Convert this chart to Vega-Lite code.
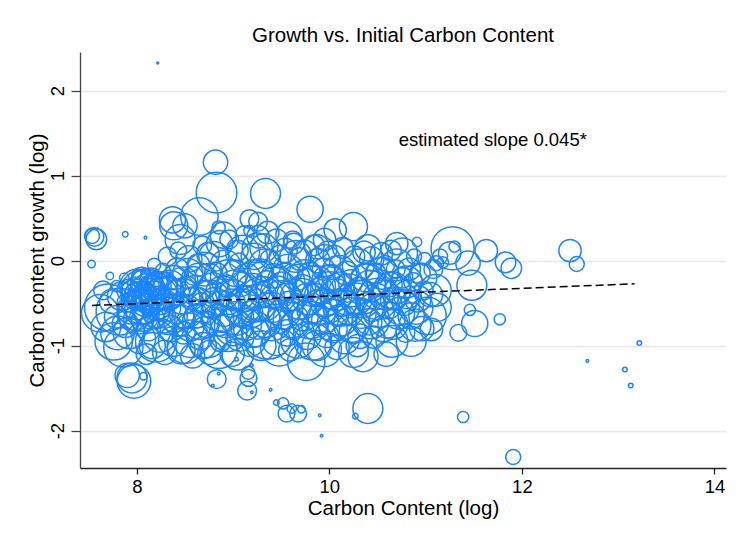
{
  "$schema": "https://vega.github.io/schema/vega-lite/v6.json",
  "width": 646,
  "height": 416,
  "autosize": "none",
  "padding": {"left": 80, "top": 52, "right": 14, "bottom": 72},
  "background": "white",
  "config": {
    "font": "Liberation Sans",
    "view": {"stroke": null},
    "axis": {"labelFont": "Liberation Sans", "titleFont": "Liberation Sans", "labelColor": "black", "titleColor": "black", "titleFontWeight": "normal"}
  },
  "title": {"text": "Growth vs. Initial Carbon Content", "fontSize": 20.5, "fontWeight": "normal", "color": "black", "offset": 6, "anchor": "middle"},
  "datasets": {
    "points": [
      {"x":8.218,"y":2.326,"w":1},
      {"x":7.56,"y":0.28,"w":100},{"x":7.58,"y":0.25,"w":121},{"x":7.535,"y":0.29,"w":64},{"x":7.53,"y":-0.04,"w":16},{"x":7.88,"y":0.31,"w":9},{"x":8.09,"y":0.27,"w":2},
      {"x":7.62,"y":-0.62,"w":400},{"x":7.65,"y":-0.35,"w":100},{"x":7.68,"y":-0.78,"w":250},{"x":7.7,"y":-0.55,"w":625},
      {"x":7.72,"y":-0.18,"w":16},{"x":7.74,"y":-0.48,"w":169},{"x":7.76,"y":-0.95,"w":400},{"x":7.78,"y":-0.66,"w":144},{"x":7.79,"y":-0.3,"w":36},
      {"x":7.82,"y":-0.6,"w":625},{"x":7.84,"y":-0.42,"w":225},{"x":7.86,"y":-1.02,"w":441},{"x":7.87,"y":-0.2,"w":25},{"x":7.88,"y":-0.75,"w":196},{"x":7.89,"y":-0.5,"w":100},
      {"x":7.91,"y":-0.35,"w":144},{"x":7.92,"y":-0.85,"w":289},{"x":7.94,"y":-0.58,"w":225},{"x":7.95,"y":-1.38,"w":256},{"x":7.97,"y":-1.42,"w":324},{"x":7.98,"y":-0.28,"w":64},{"x":7.99,"y":-0.68,"w":169},{"x":7.9,"y":-1.35,"w":169},{"x":8.07,"y":-1.36,"w":16},
      {"x":8.01,"y":-0.4,"w":196},{"x":8.03,"y":-0.22,"w":81},{"x":8.04,"y":-0.92,"w":256},{"x":8.05,"y":-0.55,"w":324},{"x":8.06,"y":-0.7,"w":144},{"x":8.08,"y":-0.35,"w":100},{"x":8.09,"y":-0.15,"w":25},{"x":8.1,"y":-1.1,"w":121},{"x":8.02,"y":-0.62,"w":484},
      {"x":8.11,"y":-0.45,"w":225},{"x":8.12,"y":-0.8,"w":169},{"x":8.14,"y":-0.3,"w":144},{"x":8.15,"y":-0.58,"w":400},{"x":8.16,"y":-1.0,"w":196},{"x":8.18,"y":-0.05,"w":49},{"x":8.19,"y":-0.68,"w":100},{"x":8.13,"y":-0.4,"w":289},
      {"x":8.21,"y":-0.25,"w":121},{"x":8.22,"y":-0.62,"w":256},{"x":8.24,"y":-0.88,"w":324},{"x":8.25,"y":-0.48,"w":196},{"x":8.27,"y":-0.12,"w":64},{"x":8.28,"y":-0.72,"w":144},{"x":8.29,"y":-1.08,"w":169},{"x":8.23,"y":-0.35,"w":400},
      {"x":7.98,"y":-0.38,"w":225},{"x":8.0,"y":-0.3,"w":324},{"x":8.02,"y":-0.45,"w":144},{"x":8.04,"y":-0.33,"w":400},{"x":8.06,"y":-0.42,"w":256},{"x":8.08,"y":-0.5,"w":196},{"x":8.1,"y":-0.28,"w":289},{"x":8.12,"y":-0.36,"w":361},{"x":8.14,"y":-0.48,"w":225},{"x":8.16,"y":-0.32,"w":169},{"x":8.18,"y":-0.42,"w":256},{"x":8.2,"y":-0.5,"w":324},{"x":8.22,"y":-0.3,"w":196},{"x":8.05,"y":-0.2,"w":121},{"x":8.15,"y":-0.22,"w":144},{"x":8.25,"y":-0.38,"w":289},{"x":8.0,"y":-0.52,"w":256},{"x":8.1,"y":-0.6,"w":169},{"x":7.96,"y":-0.46,"w":100},{"x":8.28,"y":-0.3,"w":225},
      {"x":8.31,"y":-0.55,"w":225},{"x":8.32,"y":0.05,"w":100},{"x":8.34,"y":-0.3,"w":289},{"x":8.35,"y":-0.8,"w":196},{"x":8.36,"y":-0.45,"w":121},{"x":8.38,"y":-0.95,"w":256},{"x":8.39,"y":-0.2,"w":169},{"x":8.384,"y":0.41,"w":225},{"x":8.33,"y":-0.65,"w":400},{"x":8.37,"y":0.48,"w":196},
      {"x":8.41,"y":-0.38,"w":196},{"x":8.42,"y":-0.1,"w":144},{"x":8.44,"y":-0.7,"w":289},{"x":8.45,"y":-0.52,"w":100},{"x":8.46,"y":-1.05,"w":225},{"x":8.48,"y":-0.25,"w":256},{"x":8.49,"y":-0.85,"w":144},{"x":8.5,"y":0.41,"w":169},{"x":8.43,"y":0.12,"w":81},
      {"x":8.51,"y":-0.6,"w":324},{"x":8.52,"y":-0.3,"w":121},{"x":8.54,"y":0.02,"w":196},{"x":8.55,"y":-0.78,"w":225},{"x":8.57,"y":-0.45,"w":144},{"x":8.58,"y":-1.12,"w":169},{"x":8.59,"y":-0.18,"w":100},{"x":8.56,"y":-0.92,"w":400},
      {"x":8.61,"y":-0.35,"w":256},{"x":8.62,"y":-0.65,"w":169},{"x":8.65,"y":0.52,"w":400},{"x":8.64,"y":-0.05,"w":144},{"x":8.66,"y":-0.88,"w":225},{"x":8.67,"y":-0.5,"w":121},{"x":8.68,"y":0.18,"w":100},{"x":8.69,"y":-1.0,"w":196},{"x":8.65,"y":-0.25,"w":400},
      {"x":8.71,"y":-0.42,"w":289},{"x":8.72,"y":-0.75,"w":196},{"x":8.74,"y":0.08,"w":144},{"x":8.75,"y":-0.2,"w":225},{"x":8.76,"y":-1.08,"w":169},{"x":8.78,"y":-0.58,"w":100},{"x":8.79,"y":-0.32,"w":256},{"x":8.73,"y":-0.9,"w":484},
      {"x":8.818,"y":1.158,"w":169},{"x":8.828,"y":0.8,"w":470},{"x":8.85,"y":0.39,"w":49},{"x":8.81,"y":-0.48,"w":225},{"x":8.82,"y":-0.15,"w":144},{"x":8.84,"y":-0.7,"w":289},{"x":8.86,"y":0.2,"w":196},{"x":8.87,"y":-0.95,"w":121},{"x":8.89,"y":-0.38,"w":324},{"x":8.83,"y":-1.395,"w":100},{"x":8.85,"y":-1.33,"w":2},{"x":8.79,"y":-1.47,"w":2},
      {"x":8.91,"y":-0.62,"w":196},{"x":8.92,"y":-0.05,"w":256},{"x":8.94,"y":-0.3,"w":144},{"x":8.95,"y":-0.85,"w":400},{"x":8.96,"y":0.25,"w":100},{"x":8.98,"y":-0.5,"w":225},{"x":8.99,"y":-1.1,"w":169},{"x":8.93,"y":-0.72,"w":289},
      {"x":9.01,"y":-0.4,"w":256},{"x":9.02,"y":-0.15,"w":196},{"x":9.035,"y":-1.16,"w":4},{"x":9.04,"y":-0.68,"w":324},{"x":9.05,"y":0.12,"w":121},{"x":9.07,"y":-0.9,"w":225},{"x":9.08,"y":-0.28,"w":169},{"x":9.09,"y":-0.55,"w":400},{"x":9.06,"y":-0.02,"w":100},
      {"x":9.11,"y":-0.45,"w":196},{"x":9.12,"y":0.3,"w":100},{"x":9.13,"y":-0.75,"w":289},{"x":9.157,"y":-1.32,"w":49},{"x":9.146,"y":-1.53,"w":100},{"x":9.16,"y":-1.38,"w":81},{"x":9.14,"y":-0.2,"w":225},{"x":9.17,"y":0.49,"w":100},{"x":9.17,"y":0.35,"w":36},{"x":9.18,"y":-0.95,"w":256},{"x":9.19,"y":-0.6,"w":144},{"x":9.195,"y":-1.23,"w":2},{"x":9.195,"y":-1.55,"w":2},
      {"x":9.21,"y":-0.35,"w":324},{"x":9.22,"y":0.05,"w":196},{"x":9.24,"y":-0.85,"w":225},{"x":9.25,"y":-0.5,"w":400},{"x":9.26,"y":0.28,"w":144},{"x":9.28,"y":-0.12,"w":169},{"x":9.29,"y":-1.0,"w":256},{"x":9.27,"y":-0.68,"w":484},{"x":9.26,"y":0.46,"w":100},
      {"x":9.337,"y":0.79,"w":256},{"x":9.31,"y":-0.4,"w":196},{"x":9.32,"y":0.15,"w":225},{"x":9.34,"y":-0.72,"w":289},{"x":9.35,"y":-0.25,"w":144},{"x":9.36,"y":-0.85,"w":784},{"x":9.38,"y":0.02,"w":100},{"x":9.39,"y":-1.52,"w":2},{"x":9.36,"y":0.33,"w":144},
      {"x":9.41,"y":-0.55,"w":256},{"x":9.42,"y":-0.18,"w":169},{"x":9.45,"y":0.24,"w":144},{"x":9.45,"y":-0.95,"w":225},{"x":9.45,"y":-1.67,"w":9},{"x":9.46,"y":-0.38,"w":324},{"x":9.48,"y":-0.7,"w":196},{"x":9.49,"y":0.05,"w":144},
      {"x":9.51,"y":-0.3,"w":225},{"x":9.52,"y":-1.68,"w":36},{"x":9.53,"y":-0.62,"w":289},{"x":9.54,"y":0.12,"w":169},{"x":9.555,"y":-1.8,"w":81},{"x":9.56,"y":-0.85,"w":196},{"x":9.57,"y":-0.1,"w":256},{"x":9.58,"y":-0.48,"w":121},{"x":9.59,"y":-1.05,"w":144},{"x":9.61,"y":-1.74,"w":25},{"x":9.62,"y":0.24,"w":100},
      {"x":9.62,"y":-0.4,"w":289},{"x":9.63,"y":0.2,"w":121},{"x":9.64,"y":-0.75,"w":225},{"x":9.66,"y":-0.2,"w":196},{"x":9.676,"y":-1.8,"w":81},{"x":9.67,"y":-0.95,"w":324},{"x":9.68,"y":-0.55,"w":169},{"x":9.69,"y":0.02,"w":144},{"x":9.71,"y":-1.75,"w":16},
      {"x":9.72,"y":-0.32,"w":196},{"x":9.73,"y":-0.65,"w":256},{"x":9.74,"y":0.1,"w":169},{"x":9.76,"y":-1.19,"w":400},{"x":9.77,"y":-0.88,"w":225},{"x":9.78,"y":-0.45,"w":289},{"x":9.8,"y":0.605,"w":196},{"x":9.79,"y":-0.15,"w":144},
      {"x":9.81,"y":-0.58,"w":225},{"x":9.82,"y":-0.25,"w":289},{"x":9.84,"y":0.18,"w":121},{"x":9.85,"y":-0.78,"w":196},{"x":9.86,"y":-0.4,"w":144},{"x":9.87,"y":-1.0,"w":256},{"x":9.88,"y":0.0,"w":169},{"x":9.9,"y":-1.82,"w":2},{"x":9.83,"y":-0.95,"w":400},{"x":9.87,"y":0.165,"w":169},
      {"x":9.91,"y":-0.35,"w":196},{"x":9.92,"y":-2.06,"w":2},{"x":9.93,"y":-0.68,"w":289},{"x":9.94,"y":-0.1,"w":144},{"x":9.95,"y":-0.5,"w":225},{"x":9.97,"y":-0.88,"w":169},{"x":9.98,"y":0.12,"w":100},{"x":9.99,"y":-0.25,"w":324},
      {"x":10.01,"y":-0.55,"w":256},{"x":10.02,"y":-0.2,"w":196},{"x":10.04,"y":-0.8,"w":225},{"x":10.05,"y":0.05,"w":144},{"x":10.06,"y":0.36,"w":144},{"x":10.07,"y":-0.4,"w":289},{"x":10.08,"y":-1.02,"w":169},{"x":10.09,"y":-0.65,"w":121},
      {"x":10.11,"y":-0.3,"w":225},{"x":10.12,"y":-0.7,"w":289},{"x":10.14,"y":0.15,"w":121},{"x":10.15,"y":-0.5,"w":196},{"x":10.16,"y":-0.92,"w":256},{"x":10.18,"y":-0.15,"w":169},{"x":10.19,"y":-0.38,"w":100},
      {"x":10.21,"y":-0.6,"w":225},{"x":10.22,"y":-0.25,"w":169},{"x":10.25,"y":0.4,"w":225},{"x":10.24,"y":-0.82,"w":196},{"x":10.26,"y":0.05,"w":121},{"x":10.27,"y":-1.83,"w":9},{"x":10.28,"y":-0.45,"w":289},{"x":10.29,"y":-1.0,"w":144},
      {"x":10.32,"y":-0.89,"w":169},{"x":10.31,"y":-0.35,"w":196},{"x":10.33,"y":-0.62,"w":256},{"x":10.35,"y":-1.13,"w":256},{"x":10.36,"y":0.1,"w":144},{"x":10.37,"y":-0.2,"w":225},{"x":10.38,"y":-0.5,"w":121},{"x":10.4,"y":-1.74,"w":256},
      {"x":10.41,"y":-0.72,"w":196},{"x":10.42,"y":-0.3,"w":289},{"x":10.44,"y":0.02,"w":169},{"x":10.45,"y":-0.55,"w":225},{"x":10.46,"y":-0.9,"w":144},{"x":10.48,"y":-0.15,"w":121},{"x":10.49,"y":-0.42,"w":196},
      {"x":10.51,"y":-0.6,"w":289},{"x":10.52,"y":-0.25,"w":169},{"x":10.54,"y":0.08,"w":144},{"x":10.56,"y":-0.8,"w":196},{"x":10.57,"y":-0.4,"w":256},{"x":10.59,"y":-1.1,"w":169},{"x":10.58,"y":-0.05,"w":100},
      {"x":10.61,"y":-0.52,"w":225},{"x":10.63,"y":-0.28,"w":169},{"x":10.64,"y":0.12,"w":121},{"x":10.66,"y":-0.75,"w":256},{"x":10.68,"y":-0.45,"w":144},{"x":10.69,"y":-0.1,"w":100},
      {"x":10.71,"y":-0.35,"w":196},{"x":10.72,"y":-0.62,"w":289},{"x":10.76,"y":0.09,"w":256},{"x":10.76,"y":-0.2,"w":121},{"x":10.78,"y":-0.5,"w":169},{"x":10.79,"y":-0.85,"w":100},
      {"x":10.81,"y":-0.4,"w":225},{"x":10.83,"y":-0.1,"w":144},{"x":10.85,"y":-0.65,"w":196},{"x":10.87,"y":-0.25,"w":100},{"x":10.89,"y":-0.76,"w":289},{"x":10.88,"y":0.05,"w":64},
      {"x":10.91,"y":0.22,"w":25},{"x":10.92,"y":-0.45,"w":196},{"x":10.94,"y":-0.15,"w":121},{"x":10.96,"y":-0.8,"w":169},{"x":10.98,"y":-0.35,"w":100},{"x":10.99,"y":0.02,"w":49},
      {"x":8.32,"y":-0.38,"w":324},{"x":8.4,"y":-0.62,"w":400},{"x":8.47,"y":-0.42,"w":361},{"x":8.53,"y":-0.15,"w":256},{"x":8.6,"y":-0.55,"w":484},{"x":8.66,"y":-0.72,"w":361},{"x":8.7,"y":-0.1,"w":324},{"x":8.77,"y":-0.45,"w":400},{"x":8.8,"y":0.05,"w":256},{"x":8.88,"y":-0.6,"w":484},{"x":8.95,"y":-0.2,"w":361},{"x":9.0,"y":-0.78,"w":400},{"x":9.03,"y":-0.35,"w":484},{"x":9.1,"y":0.1,"w":324},{"x":9.15,"y":-0.55,"w":529},{"x":9.2,"y":-0.8,"w":400},{"x":9.23,"y":-0.2,"w":361},{"x":9.3,"y":-0.45,"w":576},{"x":9.33,"y":-0.05,"w":289},{"x":9.4,"y":-0.7,"w":484},{"x":9.43,"y":-0.3,"w":400},{"x":9.5,"y":-0.5,"w":576},{"x":9.55,"y":-0.25,"w":400},{"x":9.6,"y":-0.7,"w":361},{"x":9.65,"y":0.05,"w":289},{"x":9.7,"y":-0.45,"w":484},{"x":9.75,"y":-0.2,"w":361},{"x":9.8,"y":-0.7,"w":400},{"x":9.85,"y":-0.3,"w":484},{"x":9.9,"y":-0.55,"w":361},{"x":9.95,"y":0.0,"w":289},{"x":10.0,"y":-0.35,"w":400},{"x":10.03,"y":-0.7,"w":484},{"x":10.1,"y":-0.15,"w":361},{"x":10.13,"y":-0.55,"w":400},{"x":10.2,"y":-0.4,"w":484},{"x":10.23,"y":-0.75,"w":361},{"x":10.3,"y":-0.05,"w":289},{"x":10.34,"y":-0.45,"w":400},{"x":10.4,"y":-0.25,"w":361},{"x":10.43,"y":-0.7,"w":400},{"x":10.5,"y":-0.45,"w":484},{"x":10.55,"y":-0.15,"w":289},{"x":10.6,"y":-0.7,"w":361},{"x":10.65,"y":-0.35,"w":400},{"x":10.7,"y":-0.05,"w":289},{"x":10.75,"y":-0.55,"w":361},{"x":10.8,"y":-0.25,"w":289},{"x":10.85,"y":-0.95,"w":256},{"x":10.9,"y":-0.55,"w":324},{"x":10.97,"y":-0.2,"w":225},{"x":11.02,"y":-0.65,"w":400},{"x":11.1,"y":-0.35,"w":289},
      {"x":7.8,"y":-0.85,"w":324},{"x":8.2,"y":-0.95,"w":484},{"x":8.5,"y":-1.0,"w":361},{"x":8.85,"y":-1.05,"w":400},{"x":9.05,"y":-1.1,"w":289},{"x":9.48,"y":-1.02,"w":400},{"x":9.95,"y":-1.05,"w":324},{"x":10.25,"y":-1.08,"w":256},{"x":10.65,"y":-0.95,"w":289},
      {"x":8.45,"y":0.25,"w":256},{"x":8.9,"y":0.3,"w":196},{"x":9.25,"y":0.15,"w":256},{"x":9.58,"y":0.3,"w":196},{"x":9.95,"y":0.25,"w":144},{"x":10.4,"y":0.15,"w":196},{"x":10.7,"y":0.2,"w":144},
      {"x":11.05,"y":-0.4,"w":169},{"x":11.06,"y":-0.81,"w":144},{"x":11.08,"y":-0.1,"w":100},{"x":11.11,"y":-0.03,"w":64},{"x":11.12,"y":-0.55,"w":225},{"x":11.15,"y":0.05,"w":64},{"x":11.18,"y":-0.02,"w":36},{"x":11.25,"y":0.09,"w":144},{"x":11.28,"y":0.146,"w":529},{"x":11.3,"y":0.165,"w":36},{"x":11.34,"y":-0.85,"w":81},{"x":11.39,"y":-1.84,"w":36},{"x":11.44,"y":-0.03,"w":169},{"x":11.46,"y":-0.58,"w":36},{"x":11.48,"y":-0.29,"w":256},{"x":11.51,"y":-0.74,"w":196},{"x":11.63,"y":0.118,"w":144},{"x":11.77,"y":-0.69,"w":36},{"x":11.83,"y":-0.02,"w":121},{"x":11.89,"y":-0.09,"w":121},{"x":11.91,"y":-2.31,"w":64},
      {"x":12.5,"y":0.118,"w":144},{"x":12.57,"y":-0.04,"w":64},{"x":12.68,"y":-1.18,"w":2},{"x":13.07,"y":-1.28,"w":6},{"x":13.13,"y":-1.47,"w":6},{"x":13.22,"y":-0.97,"w":6}
    ],
    "fit": [{"x": 7.535, "y": -0.527}, {"x": 13.17, "y": -0.273}],
    "note": [{"x": 10.72, "y": 1.42, "label": "estimated slope 0.045*"}]
  },
  "layer": [
    {
      "data": {"name": "points"},
      "mark": {"type": "point", "shape": "circle", "filled": false, "stroke": "#1a85ff", "strokeWidth": 1.5, "opacity": 1},
      "encoding": {
        "x": {"field": "x", "type": "quantitative", "scale": {"domain": [7.41, 14.12], "nice": false, "zero": false},
          "axis": {"title": "Carbon Content (log)", "values": [8, 10, 12, 14], "labelExpr": "'' + datum.value", "grid": false, "tickSize": 6, "tickColor": "#222", "domainColor": "#222", "domainWidth": 1.3, "tickWidth": 1.3, "labelFontSize": 18.5, "titleFontSize": 20.5, "labelPadding": 3, "titlePadding": 3}},
        "y": {"field": "y", "type": "quantitative", "scale": {"domain": [-2.44, 2.455], "nice": false, "zero": false},
          "axis": {"title": "Carbon content growth (log)", "values": [-2, -1, 0, 1, 2], "labelExpr": "'' + datum.value", "grid": true, "gridColor": "#e8e8e8", "gridWidth": 1.5, "tickSize": 9, "tickColor": "#444", "domainColor": "#444", "domainWidth": 1.3, "tickWidth": 1.3, "labelFontSize": 18.5, "titleFontSize": 20.5, "labelAngle": 270, "labelAlign": "center", "labelBaseline": "bottom", "labelPadding": 4, "titlePadding": 1}},
        "size": {"field": "w", "type": "quantitative", "scale": {"type": "linear", "domain": [0, 1000], "range": [0, 3500], "zero": true}, "legend": null}
      }
    },
    {
      "data": {"name": "fit"},
      "mark": {"type": "line", "color": "black", "strokeWidth": 1.5, "strokeDash": [8, 4]},
      "encoding": {"x": {"field": "x", "type": "quantitative"}, "y": {"field": "y", "type": "quantitative"}}
    },
    {
      "data": {"name": "note"},
      "mark": {"type": "text", "align": "left", "baseline": "middle", "fontSize": 18.5, "color": "black", "font": "Liberation Sans"},
      "encoding": {"x": {"field": "x", "type": "quantitative"}, "y": {"field": "y", "type": "quantitative"}, "text": {"field": "label"}}
    }
  ]
}
